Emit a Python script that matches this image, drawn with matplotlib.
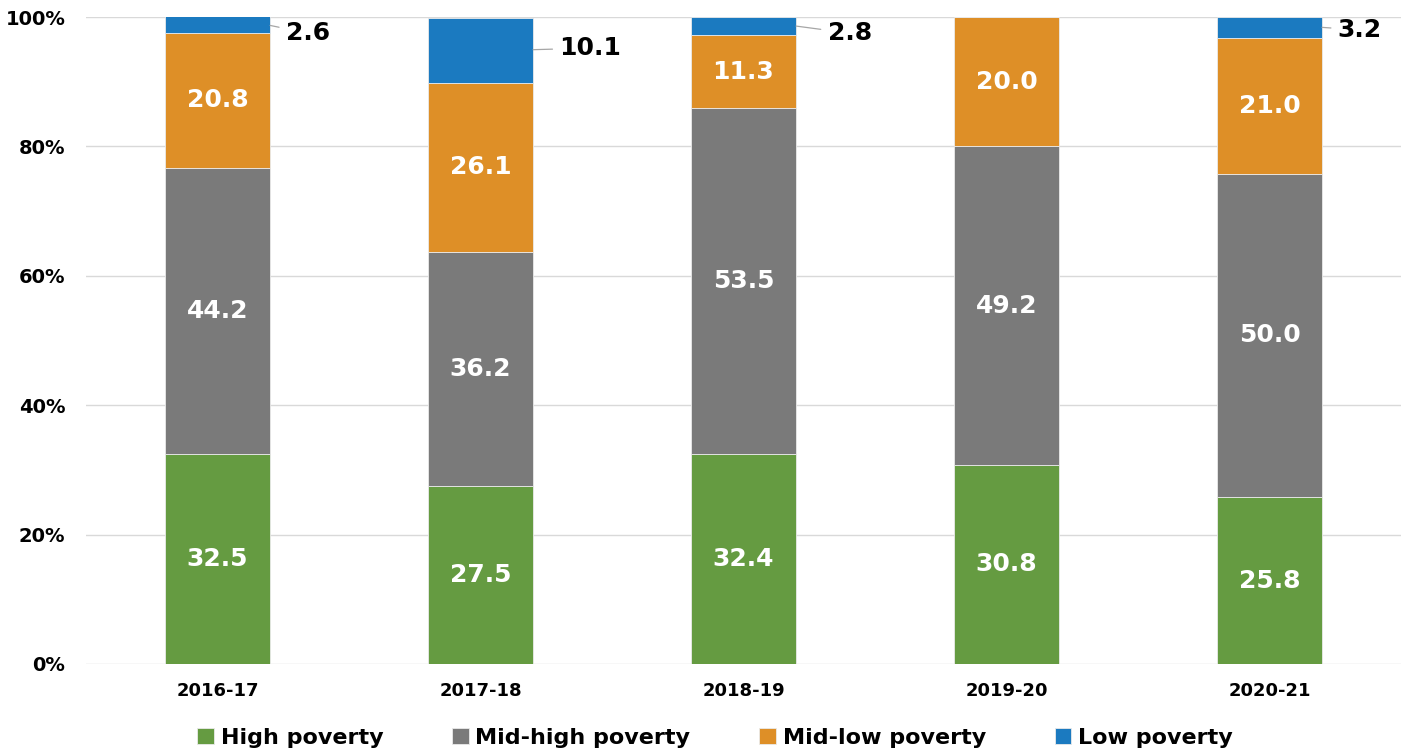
import matplotlib.pyplot as plt
import numpy as np

# data
years = ["2016-17", "2017-18", "2018-19", "2019-20", "2020-21"]
high = [32.5, 27.5, 32.4, 30.8, 25.8]
mid_high = [44.2, 36.2, 53.5, 49.2, 50.0]
mid_low = [20.8, 26.1, 11.3, 20.0, 21.0]
low = [2.6, 10.1, 2.8, 0.0, 3.2]

series = [
    ("High poverty", high, "#659B41"),
    ("Mid-high poverty", mid_high, "#7A7A7A"),
    ("Mid-low poverty", mid_low, "#DE8F27"),
    ("Low poverty", low, "#1B7AC0"),
]

plt.rcParams['font.family'] = ['DejaVu Sans']
plt.rcParams['font.weight'] = 'bold'

fig = plt.figure(figsize=(14.06, 7.53), dpi=100)
ax = fig.add_axes([0.0612, 0.1182, 0.9352, 0.8592])

x = np.arange(len(years))
width = 0.4
bottom = np.zeros(len(years))
for name, vals, color in series:
    vals = np.array(vals)
    ax.bar(x, vals, width, bottom=bottom, color=color, label=name,
           edgecolor="#EAEAEA", linewidth=0.6, zorder=3)
    if name != "Low poverty":
        for xi, b, v in zip(x, bottom, vals):
            ax.text(xi, b + v / 2, f"{v:.1f}", ha="center", va="center",
                    color="white", fontsize=18, fontweight="bold", zorder=4)
    bottom = bottom + vals

# low poverty labels sit outside the bar with a short leader line
label_offsets = {0: (0.26, -2.5), 1: (0.30, -4.8), 2: (0.32, -2.5), 4: (0.26, -2.0)}
for i, v in enumerate(low):
    if v <= 0:
        continue
    mid_y = 100 - v / 2
    dx, dy = label_offsets[i]
    ax.annotate(f"{v:.1f}", xy=(x[i] + width / 2, mid_y),
                xytext=(x[i] + dx, 100 + dy), ha="left", va="center",
                fontsize=18, fontweight="bold", color="black",
                arrowprops=dict(arrowstyle="-", color="#A6A6A6", lw=0.9,
                                shrinkA=3, shrinkB=0))

ax.set_xlim(-0.5, len(years) - 0.5)
ax.set_ylim(0, 100)
ax.set_yticks(range(0, 101, 20))
ax.set_yticklabels([f"{t}%" for t in range(0, 101, 20)], fontsize=14, fontweight="bold")
ax.set_xticks(x)
ax.set_xticklabels(years, fontsize=13, fontweight="bold")
ax.tick_params(length=0, pad=13)
ax.tick_params(axis="y", pad=15)
ax.yaxis.grid(True, color="#D9D9D9", linewidth=1, zorder=0)
for s in ax.spines.values():
    s.set_visible(False)

fig.legend(loc="center", bbox_to_anchor=(0.5086, 0.02), ncol=4, frameon=False,
           handlelength=0.75, handleheight=0.75, handletextpad=0.3,
           columnspacing=3.1, prop={"weight": "bold", "size": 16})

fig.savefig("out.png", dpi=100)
